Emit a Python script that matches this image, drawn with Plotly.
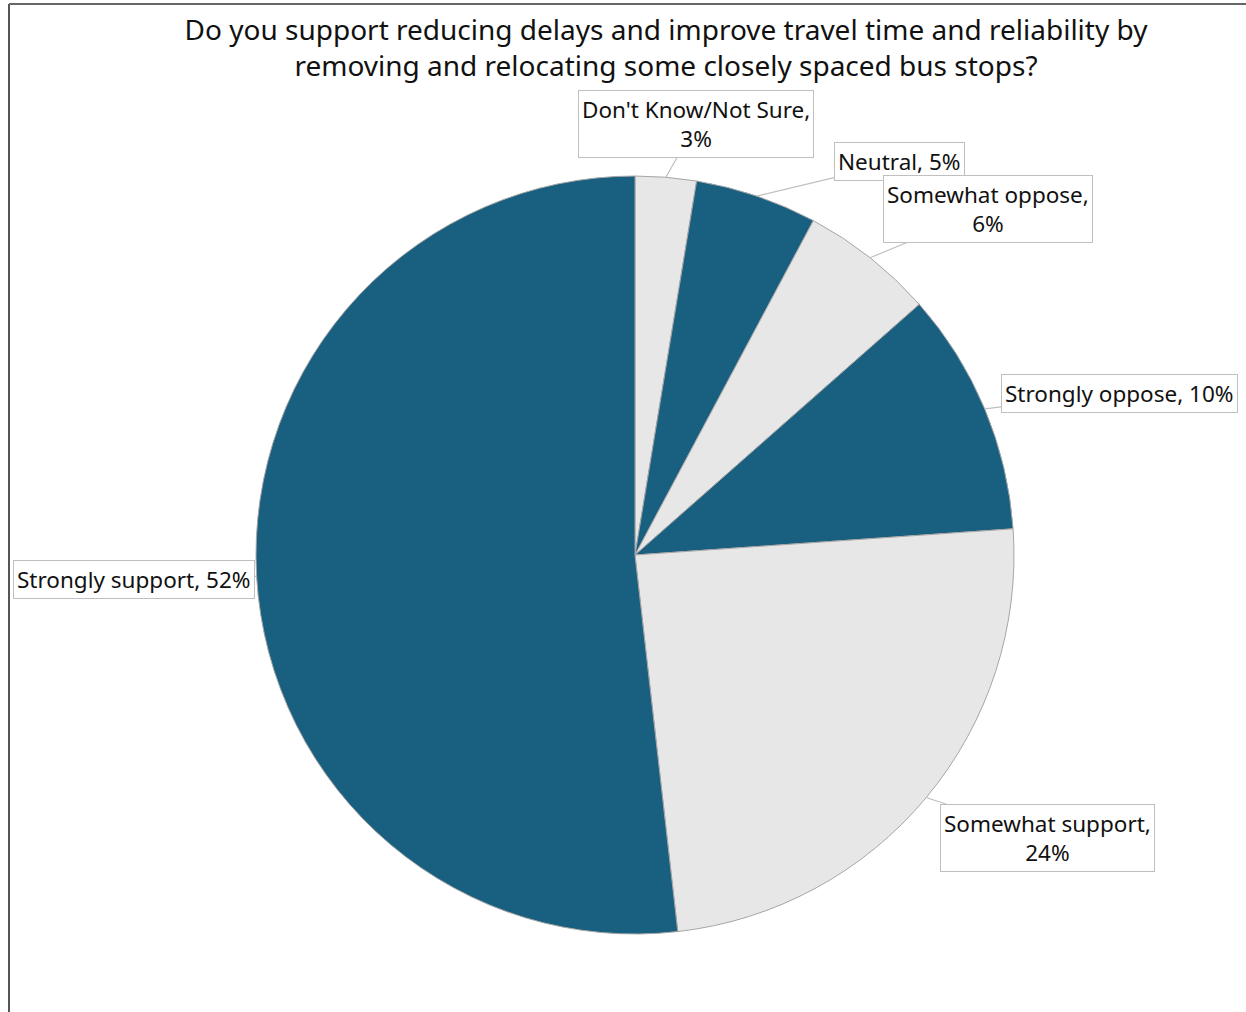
import math
import plotly.graph_objects as go

# ---- data ----
categories = ["Don't Know/Not Sure", "Neutral", "Somewhat oppose",
              "Strongly oppose", "Somewhat support", "Strongly support"]
values = [2.6, 5.2, 5.7, 10.4, 24.3, 51.8]
colors = ["#E7E7E7", "#185F80", "#E7E7E7", "#185F80", "#E7E7E7", "#185F80"]
label_breaks = [True, False, True, False, True, False]

title_text = ("Do you support reducing delays and improve travel time and reliability by<br>"
              "removing and relocating some closely spaced bus stops?")

# ---- layout geometry (pixels) ----
W, H = 1246, 1012
cx, cy, r = 635, 555, 379
# label box centres (pixels)
box_centers = [(696, 124), (899, 162), (988, 209), (1119, 393), (1047, 838), (134, 579)]

FONT = "Noto Sans"

fig = go.Figure(go.Pie(
    labels=categories, values=values, sort=False, direction="clockwise", rotation=0,
    marker=dict(colors=colors, line=dict(color="#A6A6A6", width=1)),
    textinfo="none", hoverinfo="label+percent", showlegend=False,
    domain=dict(x=[(cx - r) / W, (cx + r) / W], y=[(H - cy - r) / H, (H - cy + r) / H]),
))

total = sum(values)
annotations = []
cum = 0.0
for i, (cat, v) in enumerate(zip(categories, values)):
    ang = (cum + v * 0.5) / total * 2 * math.pi
    cum += v
    tx = cx + r * math.sin(ang)
    ty = cy - r * math.cos(ang)
    pct = f"{round(v / total * 100):.0f}%"
    txt = f"{cat},<br>{pct}" if label_breaks[i] else f"{cat}, {pct}"
    bx, by = box_centers[i]
    annotations.append(dict(
        x=tx / W, y=1 - ty / H, xref="paper", yref="paper",
        ax=bx - tx, ay=by - ty, axref="pixel", ayref="pixel",
        text=txt, showarrow=True, arrowhead=0, arrowwidth=1.2, arrowcolor="#BFBFBF",
        bordercolor="#BFBFBF", borderwidth=1, borderpad=3, bgcolor="white",
        font=dict(family=FONT, size=22.5, color="#111111"), align="center",
    ))

fig.update_layout(
    width=W, height=H, margin=dict(l=0, r=0, t=0, b=0),
    paper_bgcolor="white", plot_bgcolor="white",
    title=dict(text=title_text, x=666 / W, xanchor="center", xref="container",
               y=1 - 40 / H, yanchor="middle", yref="container",
               font=dict(family=FONT, size=28, color="#111111")),
    annotations=annotations,
    shapes=[
        dict(type="line", xref="paper", yref="paper", x0=9 / W, x1=9 / W, y0=0, y1=1 - 4 / H,
             line=dict(color="#555555", width=2)),
        dict(type="line", xref="paper", yref="paper", x0=9 / W, x1=1, y0=1 - 4 / H, y1=1 - 4 / H,
             line=dict(color="#666666", width=2)),
    ],
)

fig.write_html("out.html")
